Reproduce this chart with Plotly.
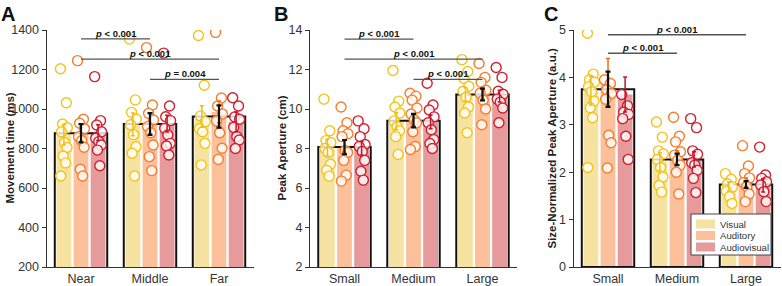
import plotly.graph_objects as go

# ---------------- data ----------------
conditions = ["Visual", "Auditory", "Audiovisual"]
cats_A = ["Near", "Middle", "Far"]
cats_B = ["Small", "Medium", "Large"]
cats_C = ["Small", "Medium", "Large"]

# Panel A: movement time (ms) – individual subjects per category
A_visual = [[1204, 1032, 924, 905, 885, 830, 805, 762, 727, 661],
            [1354, 1046, 983, 948, 920, 870, 809, 776, 661],
            [1372, 1120, 965, 936, 900, 885, 826, 717]]
A_auditory = [[1245, 948, 928, 900, 860, 840, 806, 695, 661],
              [1311, 1020, 978, 944, 911, 880, 818, 759, 688],
              [1388, 1056, 1015, 975, 940, 880, 801, 745]]
A_audiovisual = [[1164, 941, 919, 885, 852, 835, 818, 792, 713],
                 [1283, 1015, 961, 941, 902, 868, 826, 813, 767],
                 [1057, 1015, 960, 948, 907, 860, 843, 800]]
A_mean = [[870, 922, 962], [880, 925, 985], [880, 926, 935]]
A_sem = [[52, 58, 55], [45, 52, 55], [40, 42, 50]]
A_mean_all = [877, 924, 962]
A_sem_all = [46, 55, 56]

# Panel B: peak aperture (cm)
B_visual = [[10.5, 8.9, 8.4, 8.3, 8.0, 7.8, 7.2, 6.9, 6.6],
            [11.95, 10.4, 10.1, 9.8, 9.4, 9.1, 8.9, 8.6, 7.7],
            [12.5, 11.9, 11.55, 11.15, 10.9, 10.6, 10.1, 9.8, 8.8]]
B_auditory = [[10.1, 9.3, 8.9, 8.75, 8.6, 7.9, 7.8, 7.4, 6.65, 6.35],
              [10.8, 10.65, 10.45, 10.05, 9.75, 9.45, 9.3, 8.85, 8.1, 7.95],
              [12.3, 11.6, 11.35, 10.95, 10.8, 10.45, 10.0, 9.2]]
B_audiovisual = [[9.4, 9.0, 8.6, 8.2, 8.1, 7.85, 7.4, 6.85, 6.4],
                 [11.3, 10.2, 9.95, 9.6, 9.3, 8.95, 8.45, 8.25, 8.0],
                 [12.1, 11.6, 10.9, 10.75, 10.5, 10.35, 10.05, 9.3]]
B_mean = [[8.05, 9.38, 10.75], [8.12, 9.45, 10.8], [8.02, 9.35, 10.65]]
B_sem = [[0.42, 0.43, 0.34], [0.32, 0.3, 0.3], [0.35, 0.35, 0.3]]
B_mean_all = [8.07, 9.41, 10.73]
B_sem_all = [0.36, 0.34, 0.3]

# Panel C: size-normalized peak aperture (a.u.)
C_visual = [[4.93, 4.07, 3.95, 3.9, 3.8, 3.7, 3.5, 3.36, 3.15, 2.1],
            [3.06, 2.74, 2.45, 2.39, 2.27, 2.1, 1.9, 1.72, 1.58],
            [1.97, 1.85, 1.75, 1.69, 1.6, 1.48, 1.34]]
C_auditory = [[3.95, 3.87, 3.74, 3.66, 3.54, 2.78, 2.62, 2.09],
              [3.16, 2.76, 2.64, 2.43, 2.36, 2.25, 2.15, 2.0, 1.54],
              [2.56, 2.13, 1.97, 1.88, 1.78, 1.7, 1.54, 1.38]]
C_audiovisual = [[3.64, 3.4, 3.27, 3.22, 3.13, 2.76, 2.27],
                 [3.13, 2.94, 2.45, 2.38, 2.2, 2.15, 2.04, 1.87, 1.57],
                 [2.53, 1.94, 1.87, 1.8, 1.73, 1.59, 1.38]]
C_mean = [[3.72, 2.22, 1.7], [3.9, 2.3, 1.78], [3.64, 2.27, 1.72]]
C_sem = [[0.3, 0.19, 0.1], [0.5, 0.15, 0.1], [0.37, 0.16, 0.14]]
C_mean_all = [3.75, 2.27, 1.74]
C_sem_all = [0.37, 0.12, 0.07]

# significance brackets: (from category, to category, height, label)
sig_A = [(0, 1, 1355, "p < 0.001"), (0, 2, 1253, "p < 0.001"), (1, 2, 1150, "p = 0.004")]
sig_B = [(0, 1, 13.54, "p < 0.001"), (0, 2, 12.53, "p < 0.001"), (1, 2, 11.5, "p < 0.001")]
sig_C = [(0, 2, 4.9, "p < 0.001"), (0, 1, 4.51, "p < 0.001")]

# ---------------- style ----------------
W, H = 782, 286
FONT = "Arial, Liberation Sans, sans-serif"
bar_colors = ["#F7E3A1", "#FCC09B", "#E69A9B"]
pt_colors = ["#F2C41B", "#F47E2E", "#D0202E"]
err_colors = ["#EDBF17", "#F26B1D", "#C8102E"]
JITTER = [-0.05, 0.035, -0.02, 0.05, -0.035, 0.01, 0.045, -0.01, 0.025, -0.045, 0.0, 0.04]
BAR_W = 0.215
STEP = 0.248
BOX_W = 0.76

panels = [
    dict(cats=cats_A, pts=[A_visual, A_auditory, A_audiovisual], mean=A_mean, sem=A_sem,
         mall=A_mean_all, sall=A_sem_all, sig=sig_A, yr=[200, 1400], dt=200,
         title="Movement time (ms)", xpx=(46.5, 253.5), letter="A", lx=-1, tx=10),
    dict(cats=cats_B, pts=[B_visual, B_auditory, B_audiovisual], mean=B_mean, sem=B_sem,
         mall=B_mean_all, sall=B_sem_all, sig=sig_B, yr=[2, 14], dt=2,
         title="Peak Aperture (cm)", xpx=(310, 517), letter="B", lx=272, tx=282),
    dict(cats=cats_C, pts=[C_visual, C_auditory, C_audiovisual], mean=C_mean, sem=C_sem,
         mall=C_mean_all, sall=C_sem_all, sig=sig_C, yr=[0, 5], dt=1,
         title="Size-Normalized Peak Aperture (a.u.)", xpx=(573.5, 780.5), letter="C", lx=542, tx=552),
]

fig = go.Figure()
annotations = []
shapes = []
ytop, ybot = 30, 267
ydom = [(H - ybot) / H, (H - ytop) / H]

for p_i, P in enumerate(panels):
    n = p_i + 1
    xa = "x" if n == 1 else f"x{n}"
    ya = "y" if n == 1 else f"y{n}"
    idx = list(range(len(P["cats"])))
    # colored bars
    for k in range(3):
        off = (k - 1) * STEP - BAR_W / 2
        fig.add_trace(go.Bar(x=idx, y=P["mean"][k], width=BAR_W, offset=off,
                             marker=dict(color=bar_colors[k], line=dict(width=0)),
                             showlegend=False, xaxis=xa, yaxis=ya, hoverinfo="skip"))
    # individual points
    for k in range(3):
        xs, ys = [], []
        for c in idx:
            vals = P["pts"][k][c]
            for j, v in enumerate(vals):
                xs.append(c + (k - 1) * STEP + JITTER[j % len(JITTER)])
                ys.append(v)
        fig.add_trace(go.Scatter(x=xs, y=ys, mode="markers",
                                 marker=dict(size=10, color="rgba(255,255,255,0.8)",
                                             line=dict(color=pt_colors[k], width=1.4)),
                                 showlegend=False, xaxis=xa, yaxis=ya, cliponaxis=True,
                                 hoverinfo="skip"))
    # colored error bars
    for k in range(3):
        fig.add_trace(go.Scatter(x=[c + (k - 1) * STEP for c in idx], y=P["mean"][k],
                                 mode="markers", marker=dict(size=1, opacity=0),
                                 error_y=dict(type="data", array=P["sem"][k], color=err_colors[k],
                                              thickness=1.5, width=2),
                                 showlegend=False, xaxis=xa, yaxis=ya, hoverinfo="skip"))
    # black outline box (overall mean)
    fig.add_trace(go.Bar(x=idx, y=P["mall"], width=BOX_W,
                         marker=dict(color="rgba(0,0,0,0)", line=dict(color="#111111", width=2)),
                         showlegend=False, xaxis=xa, yaxis=ya, hoverinfo="skip"))
    fig.add_trace(go.Scatter(x=idx, y=P["mall"], mode="markers", marker=dict(size=1, opacity=0),
                             error_y=dict(type="data", array=P["sall"], color="#111111",
                                          thickness=2.2, width=2.5),
                             showlegend=False, xaxis=xa, yaxis=ya, hoverinfo="skip"))
    # axes
    x0, x1 = P["xpx"]
    axis_common = dict(showline=True, linecolor="#333333", showgrid=False, zeroline=False,
                       tickfont=dict(family=FONT, size=12.5, color="#333333"))
    fig.layout[("xaxis" if n == 1 else f"xaxis{n}")] = dict(
        domain=[x0 / W, x1 / W], range=[-0.5, 2.5], tickvals=idx, ticktext=P["cats"],
        ticks="", anchor=ya, linewidth=1.3, **axis_common)
    lo, hi = P["yr"]
    fig.layout[("yaxis" if n == 1 else f"yaxis{n}")] = dict(
        domain=ydom, range=[lo, hi], tickmode="linear", tick0=lo, dtick=P["dt"],
        ticks="outside", ticklen=4, tickwidth=1, tickcolor="#333333", anchor=xa,
        linewidth=1, **axis_common)
    # significance brackets
    for (a, b, yv, lab) in P["sig"]:
        shapes.append(dict(type="line", xref=xa, yref=ya, x0=a, x1=b, y0=yv, y1=yv,
                           line=dict(color="#555555", width=1.3)))
        txt = "<b><i>p</i> " + lab[2:].replace("<", "&lt;") + "</b>"
        annotations.append(dict(xref=xa, yref=ya, x=(a + b) / 2, y=yv, text=txt,
                                showarrow=False, yanchor="bottom", yshift=-2,
                                font=dict(family=FONT, size=9.5, color="#111111")))
    # panel letter
    annotations.append(dict(xref="paper", yref="paper", x=P["lx"] / W, y=1 - 1 / H,
                            xanchor="left", yanchor="top", text="<b>" + P["letter"] + "</b>",
                            showarrow=False, font=dict(family=FONT, size=20, color="#111111")))
    # y-axis title
    annotations.append(dict(xref="paper", yref="paper", x=P["tx"] / W,
                            y=(H - (ytop + ybot) / 2) / H, textangle=-90,
                            text="<b>" + P["title"] + "</b>", showarrow=False,
                            xanchor="center", yanchor="middle",
                            font=dict(family=FONT, size=11.5, color="#222222")))

# custom legend in panel C
lg_x0, lg_y0, lg_x1, lg_y1 = 691, 214, 771, 255
shapes.append(dict(type="rect", xref="paper", yref="paper", x0=lg_x0 / W, x1=lg_x1 / W,
                   y0=1 - lg_y1 / H, y1=1 - lg_y0 / H, fillcolor="white",
                   line=dict(color="#444444", width=1)))
for k, name in enumerate(conditions):
    cy = 224 + k * 11.5
    shapes.append(dict(type="rect", xref="paper", yref="paper", x0=696 / W, x1=715 / W,
                       y0=1 - (cy + 4.5) / H, y1=1 - (cy - 4.5) / H,
                       fillcolor=bar_colors[k], line=dict(width=0)))
    annotations.append(dict(xref="paper", yref="paper", x=718 / W, y=1 - cy / H, text=name,
                            showarrow=False, xanchor="left", yanchor="middle",
                            font=dict(family=FONT, size=9.6, color="#333333")))

fig.update_layout(width=W, height=H, margin=dict(l=0, r=0, t=0, b=0, autoexpand=False),
                  paper_bgcolor="white", plot_bgcolor="white", barmode="overlay",
                  showlegend=False, shapes=shapes, annotations=annotations,
                  font=dict(family=FONT))
fig.write_html("out.html", config={"displayModeBar": False},
               post_script="document.body.style.margin='0';document.body.style.overflow='hidden';")
